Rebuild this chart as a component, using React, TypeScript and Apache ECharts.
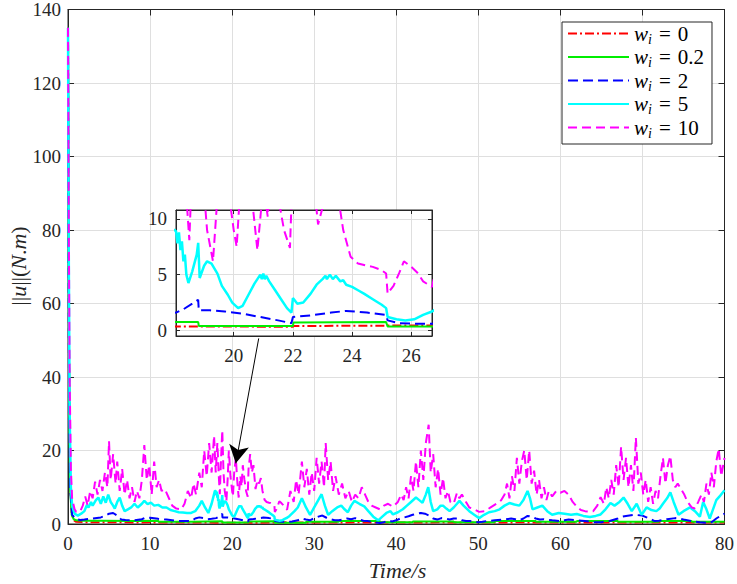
import React, { useEffect, useRef } from "react";
import * as echarts from "echarts";

const FONT = "Liberation Serif";
const AX = "#262626";
const GRIDC = "#dfdfdf";

const weightLabels = ["0", "0.2", "2", "5", "10"];
const seriesNames = weightLabels.map((w) => "wi=" + w);
const seriesColors = ["#ff0000", "#00ee00", "#0000ff", "#00ffff", "#ff00ff"];
const seriesDash: any[] = [[9, 3, 2, 3], "solid", [10, 5], "solid", [9, 5]];
const seriesWidth = [2, 2, 2, 2.5, 2];

const mainX = { min: 0, max: 80, interval: 10 };
const mainY = { min: 0, max: 140, interval: 20 };
const insetX = { min: 18.05, max: 26.7, step: 2 };
const insetY = { min: -0.5, max: 10.8, step: 5 };

// annotation arrow: from inset to the zoomed region (data coordinates)
const arrowFrom = [23.24, 50.5];
const arrowTo = [20.45, 16.5];

const redData = [
  [0, 135], [0.12, 50], [0.25, 12], [0.45, 3], [0.7, 1.0], [1.0, 0.6], [2, 0.5], [4, 0.45], [6, 0.5], [8, 0.4],
  [10, 0.45], [12, 0.4], [14, 0.4], [16, 0.45], [18.05, 0.35], [20, 0.35], [22, 0.32], [22.02, 0.4], [25.15, 0.42],
  [25.2, 0.45], [26.7, 0.45], [30, 0.4], [35, 0.45], [40, 0.4], [45, 0.45], [50, 0.4], [55, 0.45], [60, 0.4],
  [65, 0.4], [70, 0.45], [75, 0.4], [80, 0.4],
];

const greenData = [
  [0, 135], [0.12, 45], [0.25, 10], [0.45, 2.5], [0.7, 1.3], [1.0, 1.0], [2, 0.9], [4, 0.9], [4.02, 0.8], [8, 0.8],
  [8.02, 0.9], [11, 0.9], [11.02, 0.6], [15, 0.6], [15.02, 0.75], [18.8, 0.75], [18.82, 0.4], [22.0, 0.4],
  [22.02, 0.7], [25.15, 0.75], [25.2, 0.35], [29, 0.35], [29.02, 0.6], [33, 0.6], [33.02, 0.8], [38, 0.8],
  [38.02, 0.5], [42, 0.5], [42.02, 0.7], [47, 0.7], [47.02, 0.5], [52, 0.5], [52.02, 0.8], [57, 0.8], [57.02, 0.6],
  [62, 0.6], [62.02, 0.8], [67, 0.8], [67.02, 0.6], [72, 0.6], [72.02, 0.8], [76, 0.8], [76.02, 0.6], [80, 0.6],
];

const blueData = [
  [0, 135], [0.12, 40], [0.25, 10], [0.5, 2.5], [1.0, 1.3], [1.5, 1.1], [2, 1.2], [3, 1.5], [4, 1.8], [4.5, 2.2],
  [5.0, 2.8], [5.5, 3.0], [6.0, 2.3], [6.5, 1.2], [7, 1.1], [8, 1.0], [9, 1.3], [9.5, 1.8], [10, 1.7], [11, 1.4],
  [12, 1.2], [13, 0.9], [14, 0.8], [15, 0.8], [15.5, 1.5], [16, 1.8], [16.5, 1.6], [17, 1.3], [17.5, 1.4],
  [18.05, 1.6], [18.3, 1.9], [18.6, 2.4], [18.8, 2.75], [18.82, 1.8], [19.2, 1.8], [19.7, 1.7], [20.3, 1.5],
  [20.9, 1.2], [21.5, 0.9], [21.95, 0.65], [22.0, 1.2], [22.6, 1.35], [23.3, 1.6], [23.8, 1.75], [24.5, 1.6],
  [25.15, 1.4], [25.2, 0.9], [25.6, 0.65], [26.2, 0.6], [26.7, 0.6], [27.3, 0.7], [28, 1], [28.5, 1.5], [29, 1.2],
  [29.5, 1.0], [30.0, 1.6], [30.5, 2.0], [31.0, 2.3], [31.5, 1.7], [32, 1.3], [32.5, 1.0], [33, 1.0], [33.5, 1.2],
  [34, 1.5], [34.5, 1.3], [35, 1.6], [35.5, 1.2], [36, 0.9], [36.5, 0.8], [37, 0.6], [37.5, 0.4], [38, 0.3],
  [38.5, 0.5], [39, 0.9], [39.5, 0.7], [40, 1.0], [40.5, 1.5], [41, 1.8], [41.5, 2.1], [42, 2.5], [42.5, 2.8],
  [43, 3.0], [43.5, 2.8], [44, 2.3], [44.5, 1.5], [45, 1.2], [45.5, 1.6], [46, 1.5], [46.5, 1.2], [47, 1.5],
  [47.5, 1.5], [48, 1.0], [48.5, 0.8], [49, 0.8], [49.5, 0.6], [50, 0.5], [50.5, 0.6], [51, 0.8], [52, 1.0],
  [53, 1.2], [54, 1.5], [54.5, 1.3], [55, 1.0], [55.5, 1.5], [56, 2.2], [56.5, 2.0], [57, 1.5], [57.5, 1.2],
  [58, 1.3], [59, 1.0], [60, 0.8], [60.5, 1.0], [61, 1.2], [62, 1.0], [63, 0.8], [64, 0.5], [65, 0.5], [66, 0.8],
  [67, 1.5], [67.5, 2.0], [68, 2.2], [69, 2.5], [70, 2.3], [70.5, 1.8], [71, 1.3], [71.5, 0.8], [72, 0.9],
  [73, 1.3], [74, 1.6], [74.5, 1.5], [75, 1.2], [76, 0.8], [77, 0.5], [78, 0.3], [78.5, 0.6], [79, 1.5],
  [79.5, 2.2], [80, 2.8],
];

const cyanData = [
  [0, 135], [0.1, 70], [0.2, 30], [0.35, 10], [0.5, 5], [0.8, 2.8], [1.2, 2.3], [1.6, 2.8], [2.0, 3.5], [2.3, 5.2],
  [2.5, 4.5], [2.8, 6], [3.0, 5], [3.4, 6.5], [3.7, 7.2], [4.0, 5.5], [4.3, 7.5], [4.6, 5.8], [4.9, 8], [5.2, 6],
  [5.5, 5], [5.7, 4.2], [6.0, 6], [6.3, 7.2], [6.6, 5], [6.9, 3.5], [7.3, 4], [7.7, 4.5], [8.1, 5.5], [8.5, 4.5],
  [9.0, 5.5], [9.3, 6.3], [9.7, 5.4], [10.1, 5.8], [10.5, 5.0], [11.0, 5.2], [11.5, 4.5], [12.0, 4.5], [12.5, 3.8],
  [13.0, 3.5], [13.5, 3.2], [14.0, 3.1], [14.5, 3], [15.0, 3], [15.5, 3.5], [16.0, 5], [16.3, 6.3], [16.7, 4.5],
  [17.1, 3], [17.5, 5.5], [17.9, 9], [18.0, 9.0], [18.05, 8.9], [18.1, 7.8], [18.15, 8.8], [18.2, 7.2],
  [18.25, 8.0], [18.3, 6.2], [18.35, 6.8], [18.4, 5.0], [18.47, 4.25], [18.6, 5.3], [18.75, 6.8], [18.8, 7.85],
  [18.85, 4.7], [19.0, 5.8], [19.1, 6.2], [19.25, 6.0], [19.45, 5.1], [19.6, 4.0], [19.8, 3.2], [19.95, 2.5],
  [20.15, 2.0], [20.3, 2.2], [20.5, 3.2], [20.7, 4.2], [20.8, 4.6], [20.9, 5.0], [20.95, 4.6], [21.0, 5.1],
  [21.05, 4.6], [21.1, 4.9], [21.2, 4.4], [21.4, 3.6], [21.6, 2.8], [21.8, 2.0], [21.95, 1.6], [22.0, 2.9],
  [22.15, 2.4], [22.35, 2.5], [22.6, 3.3], [22.8, 4.1], [23.0, 4.6], [23.1, 4.9], [23.15, 4.6], [23.25, 5.0],
  [23.35, 4.6], [23.45, 4.9], [23.6, 4.4], [23.7, 4.5], [23.8, 4.1], [24.0, 3.9], [24.2, 3.6], [24.4, 3.3],
  [24.7, 2.8], [25.0, 2.3], [25.15, 2.0], [25.2, 1.2], [25.5, 1.0], [25.8, 0.9], [26.1, 1.0], [26.4, 1.4],
  [26.7, 1.7], [27.0, 2.2], [27.6, 3.5], [28.0, 4.5], [28.5, 7], [29.0, 4.5], [29.5, 2.5], [30.0, 4.5], [30.5, 6.5],
  [30.9, 8.1], [31.3, 5], [31.7, 2.5], [32.2, 3.5], [32.8, 4.5], [33.3, 5], [33.7, 4], [34.1, 3.2], [34.5, 5],
  [34.9, 6.3], [35.5, 5.5], [36.1, 4.8], [36.6, 3.5], [37.2, 2], [37.8, 1], [38.3, 2], [38.8, 3], [39.3, 3.5],
  [39.6, 2.6], [40.2, 3.2], [40.8, 4], [41.3, 5], [41.8, 6], [42.4, 7.2], [42.8, 6.5], [43.2, 5.8], [43.6, 8],
  [43.9, 10], [44.2, 6], [44.5, 3.5], [45.0, 4], [45.4, 5], [45.7, 5], [46.1, 4.2], [46.5, 3.5], [47.0, 4.5],
  [47.4, 5.5], [47.7, 6.3], [48.2, 5], [48.9, 3.5], [49.5, 2.5], [50.1, 1.6], [50.7, 2.5], [51.3, 3.2], [52.0, 3.5],
  [52.6, 4], [53.2, 5], [53.8, 5.7], [54.4, 5.3], [55.0, 5], [55.5, 6.5], [56.0, 9], [56.3, 7], [56.6, 4],
  [57.2, 4.5], [57.8, 5], [58.4, 3.5], [59.0, 2.5], [59.8, 3], [60.5, 2.8], [61.3, 2.5], [62.0, 2.7], [62.8, 2.2],
  [63.6, 1.9], [64.3, 2.2], [64.9, 2.6], [65.5, 4], [66.1, 5.7], [66.6, 5], [67.2, 6], [67.7, 7.2], [68.2, 5.5],
  [68.7, 3.5], [69.3, 5.5], [69.9, 2.5], [70.5, 4.5], [71.1, 3.8], [71.7, 3.5], [72.1, 4.2], [72.5, 5.5], [73.0, 7],
  [73.4, 8.6], [73.8, 6], [74.4, 2.5], [75.0, 3.5], [75.8, 4.5], [76.4, 3.5], [77.0, 2], [77.4, 6], [77.8, 4],
  [78.2, 1.5], [78.6, 4], [79.0, 6.5], [79.4, 7.5], [80.0, 9.2],
];

const magentaData = [
  [0, 135], [0.1, 80], [0.2, 40], [0.35, 15], [0.5, 7], [0.8, 4], [1.0, 3.3], [1.5, 3.5], [1.8, 5], [2.1, 7.5],
  [2.4, 5], [2.7, 9], [3.0, 7], [3.3, 11.5], [3.6, 8], [3.9, 12], [4.2, 9], [4.5, 14], [4.8, 10], [5.0, 22.5],
  [5.2, 12], [5.5, 19], [5.8, 11], [6.0, 17], [6.3, 9], [6.6, 15], [6.9, 8], [7.2, 12], [7.5, 7], [7.8, 10],
  [8.1, 6], [8.4, 9], [8.7, 7], [9.0, 12], [9.3, 21.5], [9.6, 12], [9.9, 16], [10.2, 8], [10.5, 17], [10.8, 10],
  [11.1, 12], [11.4, 9], [11.8, 9.5], [12.3, 7], [12.7, 5], [13.2, 4.2], [13.8, 4], [14.2, 5.5], [14.6, 9],
  [15.0, 7], [15.3, 11], [15.6, 8], [16.0, 14], [16.3, 10], [16.6, 20], [16.9, 13], [17.2, 22], [17.5, 14],
  [17.8, 24], [18.0, 14], [18.2, 22], [18.4, 12], [18.5, 8.1], [18.6, 15], [18.8, 25.5], [18.95, 14], [19.1, 9],
  [19.3, 6.2], [19.45, 12], [19.6, 20], [19.8, 13], [20.0, 9], [20.1, 7.5], [20.25, 14], [20.45, 18], [20.65, 11],
  [20.8, 7.2], [21.0, 13], [21.15, 10.2], [21.3, 16], [21.5, 12], [21.7, 9], [21.9, 7.4], [22.0, 15], [22.2, 19],
  [22.4, 14], [22.6, 16], [22.85, 9.5], [23.1, 12], [23.3, 11], [23.5, 12.5], [23.7, 9], [23.95, 6.6], [24.2, 6.0],
  [24.5, 5.8], [24.7, 5.7], [25.0, 5.4], [25.15, 5.1], [25.2, 3.3], [25.4, 4.0], [25.6, 5.2], [25.75, 6.2],
  [26.0, 5.7], [26.2, 5.2], [26.4, 4.4], [26.7, 3.9], [27.1, 9], [27.5, 6], [27.8, 12], [28.1, 8], [28.5, 17],
  [28.8, 10], [29.1, 15], [29.4, 8], [29.7, 14], [30.0, 9], [30.3, 18], [30.6, 11], [30.9, 17], [31.2, 10],
  [31.4, 22], [31.7, 12], [32.0, 17], [32.3, 9], [32.6, 13], [33.0, 8], [33.4, 11], [33.8, 7], [34.2, 9],
  [34.6, 6], [35.0, 8], [35.4, 7], [35.8, 10], [36.2, 8], [36.6, 6], [37.0, 5], [37.5, 4.5], [38.0, 4],
  [38.5, 5], [39.0, 5.5], [39.6, 4.7], [40.2, 6], [40.6, 8], [40.9, 6.5], [41.2, 10], [41.5, 7], [41.8, 13],
  [42.1, 9], [42.4, 17], [42.7, 10], [43.0, 20], [43.3, 12], [43.6, 22], [43.95, 27], [44.2, 14], [44.5, 19],
  [44.8, 10], [45.1, 15], [45.4, 8], [45.7, 12.5], [46.0, 7], [46.3, 9], [46.6, 6], [47.0, 5.5], [47.4, 8.5],
  [47.7, 7], [48.0, 8], [48.5, 6], [48.9, 4.5], [49.5, 4], [50.1, 3.3], [50.8, 3.5], [51.5, 4.5], [52.2, 5.5],
  [52.8, 6.5], [53.2, 8], [53.5, 11], [53.8, 7], [54.1, 13], [54.4, 9], [54.7, 18], [55.0, 11], [55.3, 17],
  [55.6, 20], [55.9, 12], [56.2, 20], [56.5, 11], [56.8, 14.5], [57.1, 8], [57.4, 12], [57.7, 7], [58.0, 10],
  [58.3, 6.5], [58.6, 9], [59.0, 7.5], [59.5, 9], [60.0, 8.5], [60.5, 9], [61.0, 8], [61.5, 6], [62.0, 4.7],
  [62.5, 3.8], [63.0, 3.5], [63.5, 3.4], [64.0, 3.5], [64.5, 5], [64.9, 7.3], [65.3, 5.5], [65.6, 10], [65.9, 7],
  [66.2, 12], [66.5, 8], [66.8, 16], [67.1, 10], [67.4, 21], [67.7, 12], [68.0, 18], [68.3, 10], [68.6, 16],
  [68.9, 9], [69.2, 23.5], [69.5, 11], [69.8, 14], [70.1, 8], [70.4, 12], [70.7, 6], [71.0, 10], [71.3, 5.5],
  [71.6, 9], [71.9, 7], [72.2, 13], [72.5, 18], [72.8, 11], [73.1, 16], [73.4, 18.5], [73.7, 12], [74.0, 10],
  [74.3, 11], [74.7, 9.5], [75.1, 8], [75.5, 6], [76.0, 4.5], [76.4, 4.2], [76.8, 6], [77.2, 8], [77.5, 6],
  [77.8, 11], [78.1, 8], [78.4, 14], [78.7, 10], [79.0, 17], [79.3, 20.5], [79.6, 13], [80.0, 18],
];

const allData = [redData, greenData, blueData, cyanData, magentaData];

function buildOption() {
  const labelStyle = { fontFamily: FONT, fontSize: 19, color: AX };
  const tickStyle = { color: AX, width: 1 };

  const xAxes: any[] = [
    {
      type: "value", gridIndex: 0, position: "bottom", ...mainX,
      axisLine: { show: true, onZero: false, lineStyle: tickStyle },
      axisTick: { show: true, inside: true, length: 6, lineStyle: tickStyle },
      axisLabel: { ...labelStyle, margin: 10 },
      splitLine: { show: true, showMinLine: false, showMaxLine: false, lineStyle: { color: GRIDC, width: 1 } },
    },
    {
      type: "value", gridIndex: 0, position: "top", ...mainX,
      axisLine: { show: true, onZero: false, lineStyle: tickStyle },
      axisTick: { show: true, inside: true, length: 6, lineStyle: tickStyle },
      axisLabel: { show: false }, splitLine: { show: false },
    },
    {
      type: "value", gridIndex: 1, position: "bottom", min: insetX.min, max: insetX.max,
      minInterval: insetX.step, maxInterval: insetX.step, z: 6,
      axisLine: { show: true, onZero: false, lineStyle: tickStyle },
      axisTick: { show: true, inside: true, length: 4, lineStyle: tickStyle },
      axisLabel: { ...labelStyle, margin: 10, showMinLabel: false, showMaxLabel: false },
      splitLine: { show: true, showMinLine: false, showMaxLine: false, lineStyle: { color: GRIDC, width: 1 } },
    },
    {
      type: "value", gridIndex: 1, position: "top", min: insetX.min, max: insetX.max,
      minInterval: insetX.step, maxInterval: insetX.step, z: 6,
      axisLine: { show: true, onZero: false, lineStyle: tickStyle },
      axisTick: { show: true, inside: true, length: 4, lineStyle: tickStyle },
      axisLabel: { show: false }, splitLine: { show: false },
    },
  ];
  const yAxes: any[] = [
    {
      type: "value", gridIndex: 0, position: "left", ...mainY,
      axisLine: { show: true, onZero: false, lineStyle: tickStyle },
      axisTick: { show: true, inside: true, length: 6, lineStyle: tickStyle },
      axisLabel: { ...labelStyle, margin: 7 },
      splitLine: { show: true, showMinLine: false, showMaxLine: false, lineStyle: { color: GRIDC, width: 1 } },
    },
    {
      type: "value", gridIndex: 0, position: "right", ...mainY,
      axisLine: { show: true, onZero: false, lineStyle: tickStyle },
      axisTick: { show: true, inside: true, length: 6, lineStyle: tickStyle },
      axisLabel: { show: false }, splitLine: { show: false },
    },
    {
      type: "value", gridIndex: 1, position: "left", min: insetY.min, max: insetY.max,
      minInterval: insetY.step, maxInterval: insetY.step, z: 6,
      axisLine: { show: true, onZero: false, lineStyle: tickStyle },
      axisTick: { show: true, inside: true, length: 4, lineStyle: tickStyle },
      axisLabel: { ...labelStyle, margin: 9, showMinLabel: false, showMaxLabel: false },
      splitLine: { show: true, showMinLine: false, showMaxLine: false, lineStyle: { color: GRIDC, width: 1 } },
    },
    {
      type: "value", gridIndex: 1, position: "right", min: insetY.min, max: insetY.max,
      minInterval: insetY.step, maxInterval: insetY.step, z: 6,
      axisLine: { show: true, onZero: false, lineStyle: tickStyle },
      axisTick: { show: true, inside: true, length: 4, lineStyle: tickStyle },
      axisLabel: { show: false }, splitLine: { show: false },
    },
  ];

  const series: any[] = [];
  seriesNames.forEach((name, i) => {
    const base = {
      type: "line", name, data: allData[i], showSymbol: false, symbol: "none", clip: true, silent: true,
      color: seriesColors[i],
      lineStyle: { color: seriesColors[i], width: seriesWidth[i], type: seriesDash[i] },
      emphasis: { disabled: true },
    };
    const main: any = { ...base, xAxisIndex: 0, yAxisIndex: 0, z: 2 };
    if (i === 0) {
      main.markLine = {
        silent: true, symbol: ["none", "arrow"], symbolSize: [15, 18],
        label: { show: false },
        lineStyle: { color: "#000", width: 1, type: "solid" },
        emphasis: { disabled: true },
        data: [[{ coord: arrowFrom }, { coord: arrowTo }]],
      };
    }
    series.push(main);
    series.push({ ...base, xAxisIndex: 2, yAxisIndex: 2, z: 7 });
  });

  const legendMap: Record<string, string> = {};
  seriesNames.forEach((n, i) => (legendMap[n] = weightLabels[i]));

  return {
    animation: false,
    backgroundColor: "#fff",
    textStyle: { fontFamily: FONT },
    grid: [
      { left: 68, top: 6, width: 659, height: 518, show: true, borderColor: AX, borderWidth: 1, backgroundColor: "transparent", z: 0 },
      { left: 176, top: 210, width: 256, height: 126, show: true, borderColor: AX, borderWidth: 1, backgroundColor: "#fff", z: 5 },
    ],
    xAxis: xAxes,
    yAxis: yAxes,
    legend: {
      data: seriesNames, orient: "vertical", left: 562, top: 22, selectedMode: false,
      itemWidth: 61, itemHeight: 14, itemGap: 0.5, padding: [1, 8, 4, 5],
      backgroundColor: "#fff", borderColor: AX, borderWidth: 1, z: 10,
      itemStyle: { opacity: 0, borderWidth: 0 },
      formatter: (name: string) => `{w|w}{s|i}{e|=}{t|${legendMap[name]}}`,
      textStyle: {
        fontFamily: FONT, fontSize: 21, color: "#000",
        rich: {
          w: { fontFamily: FONT, fontSize: 21, fontStyle: "italic", lineHeight: 25, color: "#000" },
          s: { fontFamily: FONT, fontSize: 14, fontStyle: "italic", lineHeight: 15, verticalAlign: "bottom", color: "#000" },
          e: { fontFamily: FONT, fontSize: 21, lineHeight: 25, padding: [0, 7, 0, 7], color: "#000" },
          t: { fontFamily: FONT, fontSize: 21, lineHeight: 25, color: "#000" },
        },
      },
    },
    graphic: [
      {
        type: "text", x: 397.5, y: 570, z: 10,
        style: { text: "Time/s", fontFamily: FONT, fontSize: 22, fontStyle: "italic", fill: AX, align: "center", verticalAlign: "middle" },
      },
      {
        type: "text", x: 18, y: 266, rotation: Math.PI / 2, z: 10,
        style: {
          text: "{n|||}{i|u}{n|||(}{i|N}{n|.}{i|m}{n|)}",
          fontFamily: FONT, fontSize: 22,
          align: "center", verticalAlign: "middle", fill: AX,
          rich: {
            n: { fontFamily: FONT, fontSize: 22, fill: AX },
            i: { fontFamily: FONT, fontSize: 22, fontStyle: "italic", fill: AX },
          },
        },
      },
    ],
    series,
  };
}

const fontCss = `svg text, svg tspan { font-family: "Liberation Serif", serif !important; }`;

export default function App() {
  const ref = useRef<HTMLDivElement>(null);
  useEffect(() => {
    const chart = echarts.init(ref.current!, null, { renderer: "svg" });
    chart.setOption(buildOption() as any);
    return () => chart.dispose();
  }, []);
  return (
    <>
      <style>{fontCss}</style>
      <div ref={ref} style={{ position: "fixed", left: 0, top: 0, width: 737, height: 584 }} />
    </>
  );
}
